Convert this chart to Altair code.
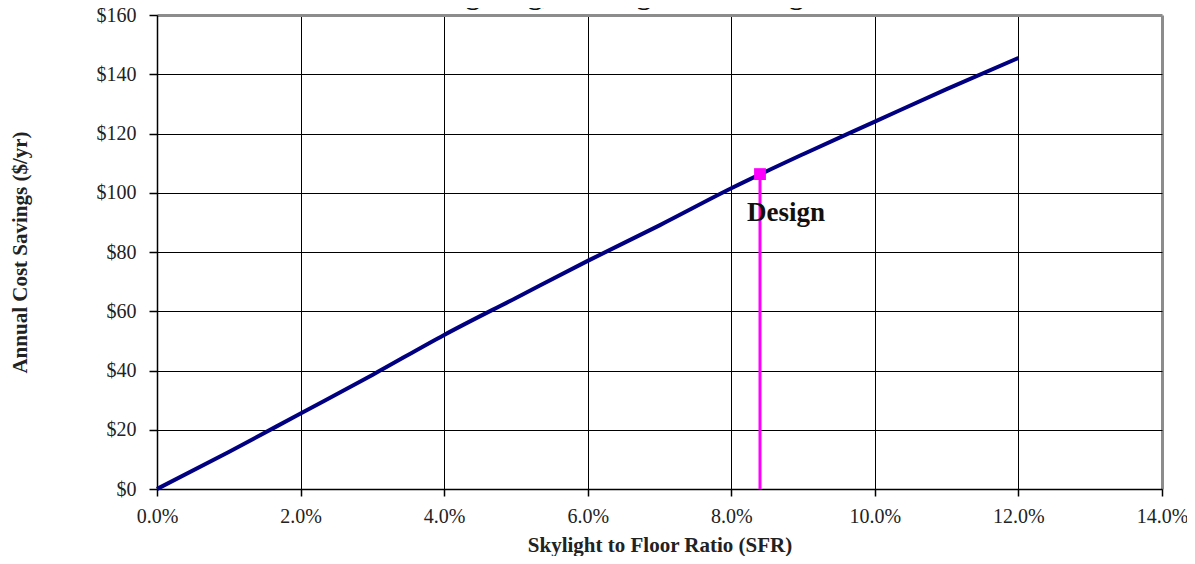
import altair as alt
import pandas as pd

sfr = [0.00, 0.01, 0.02, 0.03, 0.04, 0.05, 0.06, 0.07, 0.08, 0.09, 0.10, 0.11, 0.12]
savings = [0.0, 12.5, 25.5, 38.5, 52.0, 64.5, 77.0, 89.0, 101.5, 113.0, 124.0, 135.0, 145.5]

design_sfr = [0.084]
design_savings = [106.3]
design_label = ["Design"]

chart_title = ["Net Lighting, Heating and Cooling"]

df = pd.DataFrame({"sfr": sfr, "savings": savings})
ddf = pd.DataFrame({"sfr": design_sfr, "savings": design_savings, "zero": [0.0], "label": design_label})
tdf = pd.DataFrame({"title": chart_title})

FONT = "Liberation Serif"

xscale = alt.Scale(domain=[0, 0.14], nice=False)
yscale = alt.Scale(domain=[0, 160], nice=False)

xaxis = alt.Axis(
    title="Skylight to Floor Ratio (SFR)",
    values=[0, 0.02, 0.04, 0.06, 0.08, 0.10, 0.12, 0.14],
    format=".1%",
    labelFlush=False,
    grid=True,
    gridColor={"condition": {"test": "datum.value >= 0.139", "value": "#8c8c8c"}, "value": "black"},
    gridWidth={"condition": {"test": "datum.value >= 0.139", "value": 3}, "value": 1},
    domainColor="black", domainWidth=1.5,
    tickColor="black", tickSize=7, tickWidth=1.5,
    labelFont=FONT, labelFontSize=20, labelColor="#222", labelPadding=10,
    titleFont=FONT, titleFontSize=21, titleFontWeight="bold", titleColor="#222", titlePadding=8,
)
yaxis = alt.Axis(
    title="Annual Cost Savings ($/yr)",
    values=[0, 20, 40, 60, 80, 100, 120, 140, 160],
    format="$,.0f",
    labelFlush=False,
    grid=True,
    gridColor={"condition": {"test": "datum.value >= 159", "value": "#8c8c8c"}, "value": "black"},
    gridWidth={"condition": {"test": "datum.value >= 159", "value": 3}, "value": 1},
    domainColor="black", domainWidth=1.5,
    tickColor="black", tickSize=8, tickWidth=1.5,
    labelFont=FONT, labelFontSize=20, labelColor="#222", labelPadding=13,
    titleFont=FONT, titleFontSize=21, titleFontWeight="bold", titleColor="#222", titlePadding=66,
)

line = alt.Chart(df).mark_line(color="#000080", strokeWidth=4, interpolate="monotone").encode(
    x=alt.X("sfr:Q", scale=xscale, axis=xaxis),
    y=alt.Y("savings:Q", scale=yscale, axis=yaxis),
)

vrule = alt.Chart(ddf).mark_rule(color="#ff00ff", strokeWidth=3).encode(
    x="sfr:Q", y="zero:Q", y2="savings:Q"
)
pt = alt.Chart(ddf).mark_square(color="#ff00ff", size=140, opacity=1).encode(
    x="sfr:Q", y="savings:Q"
)
lab = alt.Chart(ddf).mark_text(
    font=FONT, fontSize=27, fontWeight="bold", color="#111", align="left", baseline="alphabetic", dx=-13, dy=47
).encode(x="sfr:Q", y="savings:Q", text="label:N")

# chart title: only its lowest part shows above the plot, as in the reference
ttl = alt.Chart(tdf).mark_text(
    font=FONT, fontSize=28, fontWeight="bold", color="#111", align="center", baseline="alphabetic"
).encode(x=alt.value(440), y=alt.value(-11), text="title:N")

chart = alt.layer(line, vrule, pt, lab, ttl).properties(
    width=1005, height=474,
    autosize=alt.AutoSizeParams(type="none"),
    padding={"left": 149, "top": 7, "right": 25, "bottom": 67},
).configure_view(strokeWidth=0)

chart.save("out.html", embed_options={"renderer": "svg", "actions": False})
